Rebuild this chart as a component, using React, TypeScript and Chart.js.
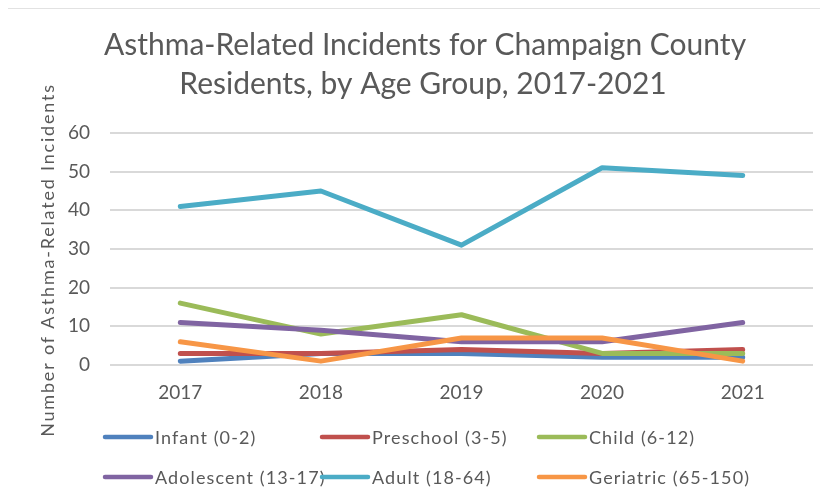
import React, { useEffect, useRef } from "react";
import { Chart, registerables } from "chart.js";

Chart.register(...registerables);

const years = ["2017", "2018", "2019", "2020", "2021"];
const infant = [1, 3, 3, 2, 2];
const preschool = [3, 3, 4, 3, 4];
const child = [16, 8, 13, 3, 3];
const adolescent = [11, 9, 6, 6, 11];
const adult = [41, 45, 31, 51, 49];
const geriatric = [6, 1, 7, 7, 1];
const seriesNames = [
  "Infant (0-2)",
  "Preschool (3-5)",
  "Child (6-12)",
  "Adolescent (13-17)",
  "Adult (18-64)",
  "Geriatric (65-150)",
];
const seriesColors = ["#4f81bd", "#c0504d", "#9bbb59", "#8064a2", "#4bacc6", "#f79646"];
const titleLines = ["Asthma-Related Incidents for Champaign County", "Residents, by Age Group, 2017-2021"];
const yTitle = "Number of Asthma-Related Incidents";

const FONT = "Lato, 'Open Sans', sans-serif";
const TEXT = "#595959";

const decorPlugin = {
  id: "decor",
  beforeDraw(chart: any) {
    const ctx = chart.ctx;
    ctx.save();
    ctx.fillStyle = "#ffffff";
    ctx.fillRect(0, 0, chart.width, chart.height);
    ctx.strokeStyle = "#d9d9d9";
    ctx.lineWidth = 1.5;
    ctx.beginPath();
    ctx.moveTo(6, chart.height);
    ctx.lineTo(6, 8);
    ctx.lineTo(chart.width, 8);
    ctx.stroke();
    ctx.restore();
  },
  afterDraw(chart: any) {
    const ctx = chart.ctx;
    ctx.save();
    ctx.fillStyle = TEXT;
    ctx.textAlign = "center";
    ctx.textBaseline = "middle";
    ctx.font = `30px ${FONT}`;
    ctx.fillText(titleLines[0], 425, 45);
    ctx.fillText(titleLines[1], 423, 84);

    ctx.save();
    ctx.translate(48, 260);
    ctx.rotate(-Math.PI / 2);
    ctx.font = `18px ${FONT}`;
    (ctx as any).letterSpacing = "1.8px";
    ctx.fillText(yTitle, 0, 0);
    ctx.restore();

    const colX = [103, 320, 537];
    const rowY = [437, 477];
    ctx.font = `18px ${FONT}`;
    (ctx as any).letterSpacing = "1.1px";
    ctx.textAlign = "left";
    chart.data.datasets.forEach((ds: any, i: number) => {
      const x = colX[i % 3];
      const y = rowY[Math.floor(i / 3)];
      ctx.strokeStyle = ds.borderColor;
      ctx.lineWidth = 4.5;
      ctx.lineCap = "round";
      ctx.beginPath();
      ctx.moveTo(x + 2, y);
      ctx.lineTo(x + 48, y);
      ctx.stroke();
      ctx.fillStyle = TEXT;
      ctx.fillText(ds.label, x + 52, y + 1);
    });
    ctx.restore();
  },
};

export default function App() {
  const ref = useRef<HTMLCanvasElement>(null);
  useEffect(() => {
    if (!ref.current) return;
    const values = [infant, preschool, child, adolescent, adult, geriatric];
    const chart = new Chart(ref.current, {
      type: "line",
      data: {
        labels: years,
        datasets: values.map((v, i) => ({
          label: seriesNames[i],
          data: v,
          borderColor: seriesColors[i],
          backgroundColor: seriesColors[i],
          borderWidth: 5,
          pointRadius: 0,
          tension: 0,
          borderCapStyle: "round" as const,
          borderJoinStyle: "round" as const,
          order: values.length - i,
        })),
      },
      options: {
        responsive: false,
        animation: false,
        devicePixelRatio: 1,
        layout: { padding: { top: 133, left: 0, right: 15, bottom: 0 } },
        plugins: {
          legend: { display: false },
          title: { display: false },
          tooltip: { enabled: false },
        },
        scales: {
          x: {
            offset: true,
            grid: { display: false, drawTicks: false },
            border: { display: false },
            ticks: { color: TEXT, font: { family: FONT, size: 19 }, padding: 16 },
            afterFit(scale: any) {
              scale.height = 504 - 365;
            },
          },
          y: {
            min: 0,
            max: 60,
            grid: { color: "#d9d9d9", lineWidth: 2, drawTicks: false },
            border: { display: false },
            ticks: { stepSize: 10, color: TEXT, font: { family: FONT, size: 19 }, padding: 20 },
            afterFit(scale: any) {
              scale.width = 110;
            },
          },
        },
      },
      plugins: [decorPlugin],
    });
    return () => chart.destroy();
  }, []);
  return (
    <div style={{ margin: -8, width: 828, height: 504 }}>
      <canvas ref={ref} width={828} height={504} style={{ display: "block" }} />
    </div>
  );
}
